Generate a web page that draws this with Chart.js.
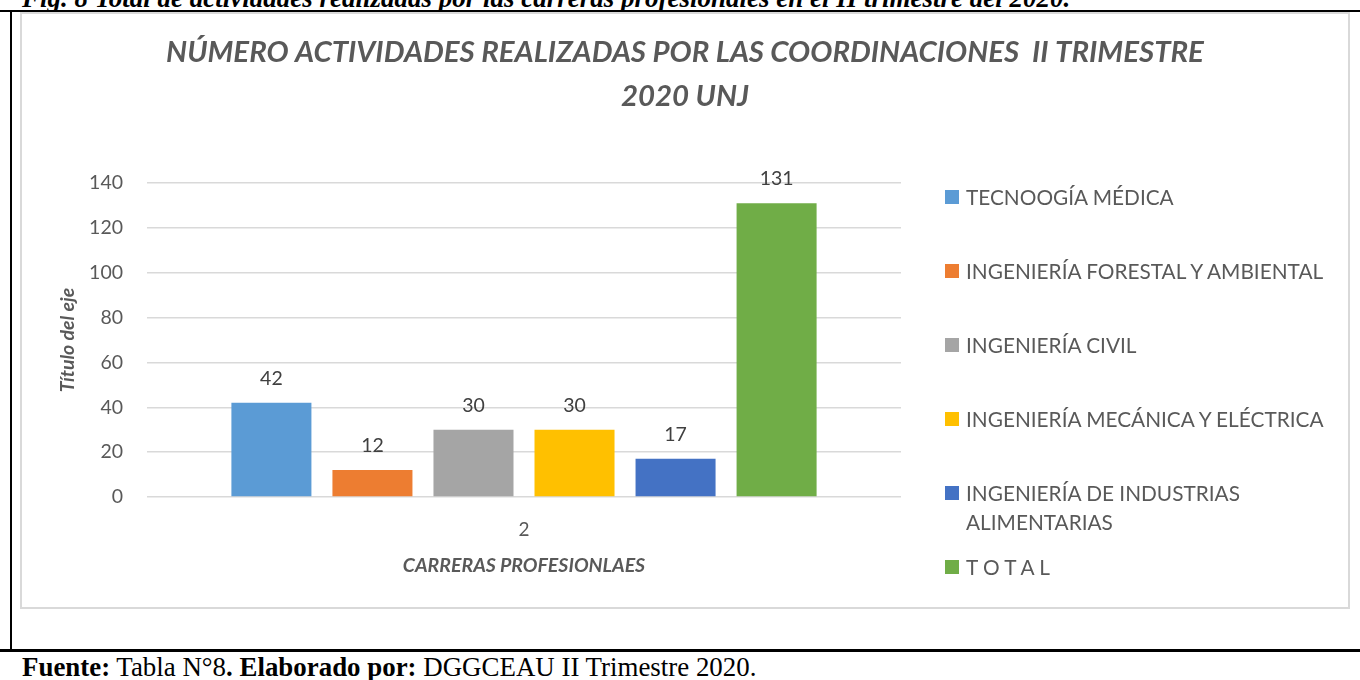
<!DOCTYPE html>
<html><head><meta charset="utf-8">
<script src="https://cdn.jsdelivr.net/npm/chart.js@4.4.1/dist/chart.umd.min.js"></script>
<style>
html,body{margin:0;padding:0;width:1360px;height:680px;overflow:hidden;background:#fff;}
#caption{position:absolute;left:22px;top:-15.5px;font:italic bold 27px "Liberation Serif",serif;line-height:27px;white-space:nowrap;color:#000}
.bl{position:absolute;background:#000}
#frame{position:absolute;left:20px;top:12px;width:1330px;height:597px;box-sizing:border-box;border:2px solid #D9D9D9;}
#wrap{position:absolute;left:20px;top:12px;width:1330px;height:596px;}
#legend{position:absolute;left:0;top:0;width:0;height:0;}
.li{position:absolute;left:945px;width:410px;font:20.8px Lato,sans-serif;color:#595959;line-height:29px;}
.li .sw{position:absolute;left:0;top:8px;width:14px;height:14px;}
.li .tx{position:absolute;left:21px;top:0;width:385px;}
#footer{position:absolute;left:22px;top:654px;font:26.9px "Liberation Serif",serif;line-height:27px;white-space:nowrap;color:#000}
</style></head>
<body>
<div id="caption">Fig. 8 Total de actividades realizadas por las carreras profesionales en el II trimestre del 2020.</div>
<div class="bl" style="left:0;top:10px;width:1360px;height:2px"></div>
<div class="bl" style="left:10px;top:10px;width:2px;height:641px"></div>
<div class="bl" style="left:0;top:649px;width:1360px;height:3px"></div>
<div id="frame"></div>
<div id="wrap"><canvas id="c" width="1330" height="596"></canvas></div>
<div id="legend"></div>
<div id="footer"><b>Fuente:</b> Tabla N°8<b>. Elaborado por:</b> DGGCEAU II Trimestre 2020.</div>
<script>
const categories = ['2'];
const seriesNames = ['TECNOOGÍA MÉDICA', 'INGENIERÍA FORESTAL Y AMBIENTAL', 'INGENIERÍA CIVIL', 'INGENIERÍA MECÁNICA Y ELÉCTRICA', 'INGENIERÍA DE INDUSTRIAS ALIMENTARIAS', 'T O T A L'];
const seriesValues = [42, 12, 30, 30, 17, 131];
const yTickMin = 0, yTickMax = 140, yTickStep = 20;
const chartTitle = ['NÚMERO ACTIVIDADES REALIZADAS POR LAS COORDINACIONES  II TRIMESTRE', '2020 UNJ'];
const xAxisTitle = 'CARRERAS PROFESIONLAES';
const yAxisTitle = 'Título del eje';

const palette = ['#5B9BD5', '#ED7D31', '#A5A5A5', '#FFC000', '#4472C4', '#70AD47'];
const FONT = 'Lato, "Open Sans", sans-serif';
const TXT = '#595959';

const labelPlugin = {
  id: 'valueLabels',
  afterDatasetsDraw(chart) {
    const ctx = chart.ctx;
    ctx.save();
    ctx.font = '19.5px ' + FONT;
    ctx.fillStyle = '#404040';
    ctx.textAlign = 'center';
    ctx.textBaseline = 'middle';
    chart.data.datasets.forEach((ds, i) => {
      const meta = chart.getDatasetMeta(i);
      meta.data.forEach((el, j) => {
        ctx.fillText(String(ds.data[j]), el.x, el.y - 24);
      });
    });
    ctx.restore();
  }
};

const titlePlugin = {
  id: 'centeredTitle',
  afterDraw(chart) {
    const ctx = chart.ctx;
    ctx.save();
    ctx.font = 'italic bold 29.4px ' + FONT;
    ctx.fillStyle = TXT;
    ctx.textAlign = 'center';
    ctx.textBaseline = 'middle';
    const cx = chart.width / 2;
    chartTitle.forEach((line, i) => ctx.fillText(line, cx, 41 + 44 * i));
    ctx.restore();
  }
};

const chart = new Chart(document.getElementById('c'), {
  type: 'bar',
  data: {
    labels: categories,
    datasets: seriesNames.map((n, i) => ({
      label: n,
      data: [seriesValues[i]],
      backgroundColor: palette[i],
      borderWidth: 0,
      categoryPercentage: 0.804,
      barPercentage: 0.792
    }))
  },
  options: {
    responsive: false,
    animation: false,
    layout: { padding: { left: 1, right: 449, top: 171, bottom: 0 } },
    plugins: {
      legend: { display: false },
      tooltip: { enabled: false },
      title: { display: false }
    },
    scales: {
      x: {
        grid: { display: false, drawTicks: false },
        border: { display: false },
        ticks: { color: TXT, font: { family: FONT, size: 19 }, padding: 21 },
        title: { display: true, text: xAxisTitle, color: TXT, font: { family: FONT, size: 19.5, weight: 'bold', style: 'italic' }, padding: { top: 0, bottom: 31 } },
        afterFit(s) { s.height = 111; }
      },
      y: {
        min: yTickMin, max: yTickMax,
        grid: { color: '#D9D9D9', lineWidth: 1.5, drawTicks: false },
        border: { display: false },
        ticks: { stepSize: yTickStep, color: TXT, font: { family: FONT, size: 19.5 }, padding: 24 },
        title: { display: true, text: yAxisTitle, color: TXT, font: { family: FONT, size: 19.5, weight: 'bold', style: 'italic' }, padding: { top: 35, bottom: 0 } },
        afterFit(s) { s.width = 126; }
      }
    }
  },
  plugins: [labelPlugin, titlePlugin]
});

// HTML legend built from the chart's datasets
const legend = document.getElementById('legend');
chart.data.datasets.forEach((ds, i) => {
  const item = document.createElement('div');
  item.className = 'li';
  item.style.top = (196 - 14.5 + 74 * i) + 'px';
  const sw = document.createElement('span');
  sw.className = 'sw';
  sw.style.background = ds.backgroundColor;
  const tx = document.createElement('span');
  tx.className = 'tx';
  tx.textContent = ds.label;
  item.appendChild(sw); item.appendChild(tx);
  legend.appendChild(item);
});
</script>
</body></html>
